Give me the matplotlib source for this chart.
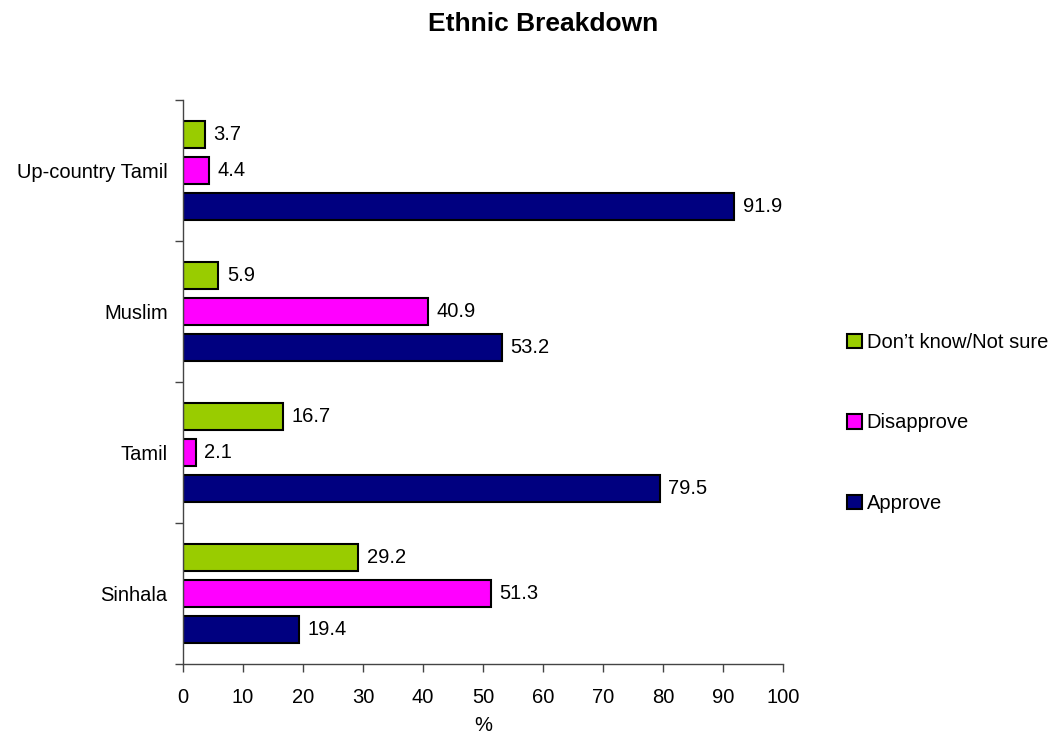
import matplotlib.pyplot as plt
import numpy as np
from matplotlib.patches import Patch
from matplotlib.ticker import MultipleLocator, FixedLocator

plt.rcParams['font.family'] = ['Liberation Sans', 'DejaVu Sans']

# data, bottom group first
groups = ['Sinhala', 'Tamil', 'Muslim', 'Up-country Tamil']
approve = [19.4, 79.5, 53.2, 91.9]
disapprove = [51.3, 2.1, 40.9, 4.4]
dont_know = [29.2, 16.7, 5.9, 3.7]

series = [('Approve', approve, '#000080', -0.257),
          ('Disapprove', disapprove, '#FF00FF', 0.0),
          ('Don\u2019t know/Not sure', dont_know, '#99CC00', 0.257)]

fs = 14.5
fig = plt.figure(figsize=(10.53, 7.38), dpi=100)
ax = fig.add_axes([183 / 1053, 1 - 664 / 738, 600 / 1053, 564 / 738])

y = np.arange(len(groups))
for name, vals, col, off in series:
    bars = ax.barh(y + off, vals, height=0.19, color=col, edgecolor='black', linewidth=1.5)
    for b, v in zip(bars, vals):
        ax.text(b.get_width() + 1.4, b.get_y() + b.get_height() / 2, '%.1f' % v,
                va='center', ha='left', fontsize=fs)

ax.set_xlim(0, 100)
ax.set_ylim(-0.5, len(groups) - 0.5)
ax.xaxis.set_major_locator(MultipleLocator(10))
ax.set_yticks(y)
ax.set_yticklabels(groups)
ax.yaxis.set_minor_locator(FixedLocator(np.arange(-0.5, len(groups), 1.0)))
ax.tick_params(axis='y', which='major', length=0, pad=11, labelsize=fs)
ax.tick_params(axis='y', which='minor', length=6, width=1, color='#444444')
ax.tick_params(axis='x', length=6, width=1, color='#444444', pad=11, labelsize=fs)
for s in ['top', 'right']:
    ax.spines[s].set_visible(False)
for s in ['left', 'bottom']:
    ax.spines[s].set_color('#444444')
    ax.spines[s].set_linewidth(1)

ax.set_xlabel('%', fontsize=fs, labelpad=7)
fig.text(543 / 1053, 1 - 24 / 738, 'Ethnic Breakdown', ha='center', va='center',
         fontsize=19, fontweight='bold')

handles = [Patch(facecolor=c, edgecolor='black', linewidth=1.5, label=n)
           for n, v, c, o in reversed(series)]
fig.legend(handles=handles, loc='center left', bbox_to_anchor=(847 / 1053, 1 - 423 / 738),
           frameon=False, fontsize=fs, handlelength=0.72, handleheight=0.72,
           handletextpad=0.25, labelspacing=3.05, borderpad=0, borderaxespad=0)

fig.savefig('out.png', dpi=100)
